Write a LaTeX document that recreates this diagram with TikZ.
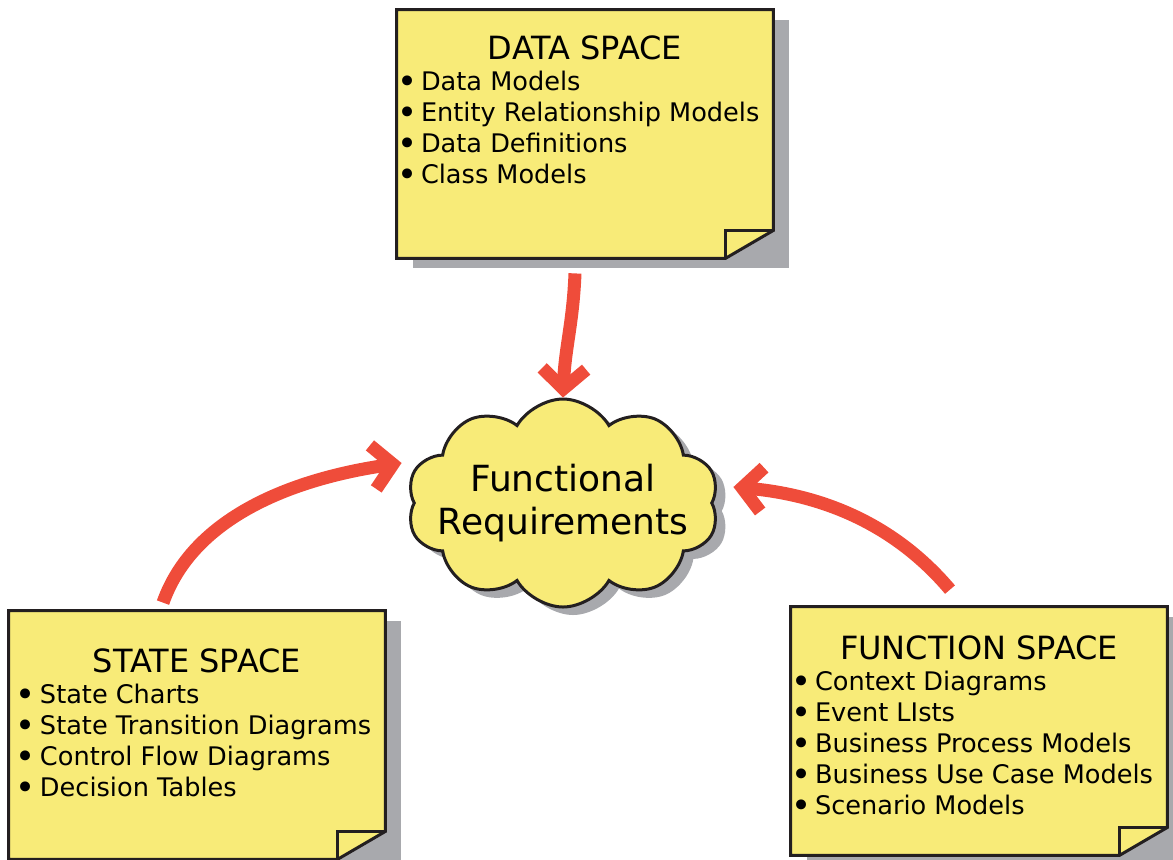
\documentclass[tikz,border=0pt]{standalone}
\usepackage{fontspec}
\setmainfont{DejaVu Sans}
\usetikzlibrary{positioning,arrows.meta,shapes.symbols,shadows,backgrounds}
\definecolor{NoteYellow}{RGB}{248,235,120}
\definecolor{NoteLine}{RGB}{35,31,32}
\definecolor{ShadowGray}{RGB}{168,169,173}
\definecolor{ArrowRed}{RGB}{239,76,58}
\newcommand{\titlefont}{\fontsize{16}{19}\selectfont}
\newcommand{\itemfont}{\fontsize{12.8}{15.5}\selectfont}
\newcommand{\cloudfont}{\fontsize{18}{21.5}\selectfont}
\newcommand{\bul}{\makebox[9pt][l]{\hspace{-3pt}\raisebox{-1.2pt}{\fontsize{17}{0}\selectfont\textbullet}}}
% top space, left indent, title, items
\newcommand{\notebody}[4]{\parbox[c][118pt][t]{182pt}{\vspace*{#1}{\centering\titlefont #3\par}\raggedright\itemfont\leftskip=#2\relax #4\par}}

\begin{document}
\begin{tikzpicture}[x=0.5pt, y=-0.5pt, note/.style={rectangle,inner sep=3pt}, notefill/.style={fill=NoteYellow,draw=NoteLine,line width=1.5pt}, foldline/.style={draw=NoteLine,line width=1.5pt}, thought/.style={cloud,cloud puffs=10,cloud puff arc=120,cloud ignores aspect,minimum width=156pt,minimum height=104pt,inner sep=0pt,fill=NoteYellow,draw=NoteLine,line width=1.5pt,drop shadow={shadow xshift=5pt,shadow yshift=-4pt,fill=ShadowGray,opacity=1}}, arrow/.style={draw=ArrowRed,line width=6.5pt,-{Straight Barb[length=10pt,width=22pt]}}]
\useasboundingbox (0,0) rectangle (1173,859);
\node[note] (data) at (585,134) {\notebody{10pt}{0pt}{DATA SPACE}{\bul Data Models\\\bul Entity Relationship Models\\\bul Data Definitions\\\bul Class Models}};
\node[note] (state) at (197,735) {\notebody{16pt}{3.5pt}{STATE SPACE}{\bul State Charts\\\bul State Transition Diagrams\\\bul Control Flow Diagrams\\\bul Decision Tables}};
\node[note] (func) at (979,731) {\notebody{11.5pt}{0pt}{FUNCTION SPACE}{\bul Context Diagrams\\\bul Event LIsts\\\bul Business Process Models\\\bul Business Use Case Models\\\bul Scenario Models}};
\node[thought,label={[font=\cloudfont,align=center]center:Functional\\Requirements}] (fr) at (563,503) {};
% sticky notes: shadow, body with folded corner
\begin{scope}[on background layer]
\foreach \n in {data,state,func}{
  \fill[ShadowGray] ([shift={(8pt,-5pt)}]\n.south west) rectangle ([shift={(8pt,-5pt)}]\n.north east);
  \path[notefill] (\n.north west) -- (\n.north east) -- ([yshift=14pt]\n.south east) -- ([xshift=-24pt]\n.south east) -- (\n.south west) -- cycle;
  \draw[foldline] ([xshift=-24pt]\n.south east) -- ([xshift=-24pt,yshift=14pt]\n.south east) -- ([yshift=14pt]\n.south east);
}
\end{scope}
\draw[arrow] ([xshift=-5pt,yshift=-7.5pt]data.south) .. controls +(-2,50) and +(2,-50) .. (fr.north);
\draw[arrow] ([xshift=-17pt,yshift=4pt]state.north) .. controls +(30,-85) and +(-110,16) .. ([shift={(-11,-40)}]fr.west);
\draw[arrow] ([xshift=-14.5pt,yshift=8.5pt]func.north) .. controls +(-55,-65) and +(90,8) .. ([shift={(20,-16)}]fr.east);
\end{tikzpicture}
\end{document}
